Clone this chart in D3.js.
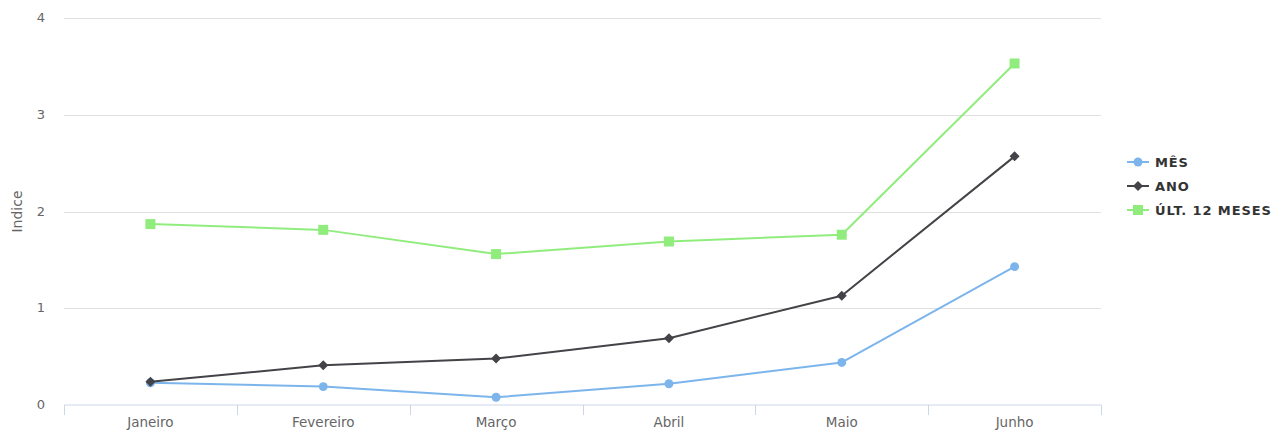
<!DOCTYPE html>
<html>
<head>
<meta charset="utf-8">
<title>Indice</title>
<script src="https://cdnjs.cloudflare.com/ajax/libs/d3/7.8.5/d3.min.js"></script>
<style>
  body { margin: 0; background: #fff; }
  text { font-family: "DejaVu Sans", Verdana, sans-serif; }
</style>
</head>
<body>
<script>
// data
var meses = ["Janeiro", "Fevereiro", "Março", "Abril", "Maio", "Junho"];
var mes = [0.23, 0.19, 0.08, 0.22, 0.44, 1.43];
var ano = [0.24, 0.41, 0.48, 0.69, 1.13, 2.57];
var ult12 = [1.87, 1.81, 1.56, 1.69, 1.76, 3.53];
var yTicks = [0, 1, 2, 3, 4];

var series = [
  { name: "MÊS", values: mes, color: "#7cb5ec", symbol: "circle" },
  { name: "ANO", values: ano, color: "#434348", symbol: "diamond" },
  { name: "ÚLT. 12 MESES", values: ult12, color: "#90ed7d", symbol: "square" }
];

var width = 1288, height = 439;
var plotLeft = 64, plotRight = 1101, plotTop = 18, plotBottom = 405;

var svg = d3.select("body").append("svg")
  .attr("width", width)
  .attr("height", height);

var x = d3.scaleBand().domain(meses).range([plotLeft, plotRight]);
var y = d3.scaleLinear().domain([0, 4]).range([plotBottom, plotTop]);

// grid
svg.append("g").selectAll("line")
  .data(yTicks.filter(function(d) { return d > 0; }))
  .enter().append("line")
  .attr("x1", plotLeft).attr("x2", plotRight)
  .attr("y1", function(d) { return Math.round(y(d)) + 0.5; })
  .attr("y2", function(d) { return Math.round(y(d)) + 0.5; })
  .attr("stroke", "#e0e0e0");

// y labels
svg.append("g").selectAll("text")
  .data(yTicks)
  .enter().append("text")
  .attr("x", 45)
  .attr("y", function(d) { return y(d) + 4; })
  .attr("text-anchor", "end")
  .attr("font-size", 13)
  .attr("fill", "#666")
  .text(function(d) { return d; });

svg.append("text")
  .attr("transform", "translate(22," + ((plotTop + plotBottom) / 2) + ") rotate(-90)")
  .attr("text-anchor", "middle")
  .attr("font-size", 14)
  .attr("fill", "#666")
  .text("Indice");

// x axis
var xAxis = d3.axisBottom(x).tickSize(0).tickPadding(13);
var gx = svg.append("g")
  .attr("transform", "translate(0," + (plotBottom - 0.5) + ")")
  .call(xAxis);
gx.select(".domain").attr("stroke", "#ccd6eb");
gx.selectAll("text").attr("font-size", 13.5).attr("fill", "#666")
  .style("font-family", "DejaVu Sans, sans-serif");

var bounds = meses.map(function(m) { return x(m); }).concat([plotRight]);
svg.append("g").selectAll("line")
  .data(bounds)
  .enter().append("line")
  .attr("x1", function(d) { return Math.round(d) + 0.5; })
  .attr("x2", function(d) { return Math.round(d) + 0.5; })
  .attr("y1", plotBottom).attr("y2", plotBottom + 10)
  .attr("stroke", "#ccd6eb");

var cx = function(d, i) { return x(meses[i]) + x.bandwidth() / 2; };

var line = d3.line()
  .x(function(d, i) { return cx(d, i); })
  .y(function(d) { return y(d); });

var symbols = {
  circle: function() { return d3.symbol().type(d3.symbolCircle).size(Math.PI * 20)(); },
  diamond: function() { return "M0,-5L5,0L0,5L-5,0Z"; },
  square: function() { return "M-5,-5H5V5H-5Z"; }
};

series.forEach(function(s) {
  svg.append("path")
    .datum(s.values)
    .attr("d", line)
    .attr("fill", "none")
    .attr("stroke", s.color)
    .attr("stroke-width", 2)
    .attr("stroke-linejoin", "round");

  svg.append("g").selectAll("path")
    .data(s.values)
    .enter().append("path")
    .attr("transform", function(d, i) { return "translate(" + cx(d, i) + "," + y(d) + ")"; })
    .attr("d", symbols[s.symbol])
    .attr("fill", s.color);
});

// legend
var legend = svg.append("g").attr("transform", "translate(1127,162)");
var item = legend.selectAll("g")
  .data(series)
  .enter().append("g")
  .attr("transform", function(d, i) { return "translate(0," + (i * 24) + ")"; });

item.append("line")
  .attr("x1", 0).attr("x2", 22)
  .attr("stroke", function(d) { return d.color; })
  .attr("stroke-width", 2);
item.append("path")
  .attr("transform", "translate(11,0)")
  .attr("d", function(d) { return symbols[d.symbol](); })
  .attr("fill", function(d) { return d.color; });
item.append("text")
  .attr("x", 28)
  .attr("y", 5)
  .attr("font-size", 13)
  .attr("font-weight", "bold")
  .attr("letter-spacing", 0.9)
  .attr("fill", "#333")
  .text(function(d) { return d.name; });
</script>
</body>
</html>
